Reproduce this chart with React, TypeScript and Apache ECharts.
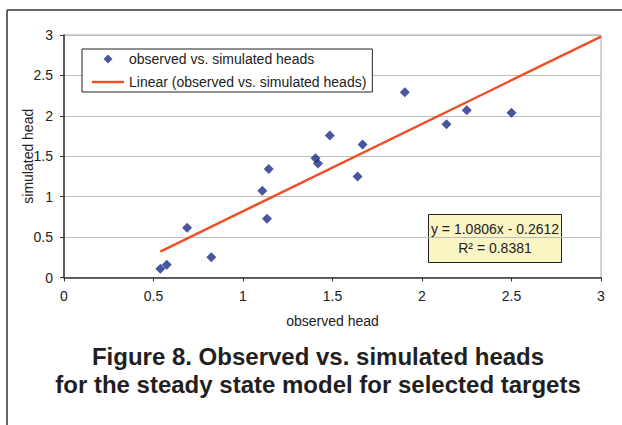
import React, { useEffect, useRef } from "react";
import * as echarts from "echarts";

const observedHead = [0.538, 0.574, 0.688, 0.823, 1.108, 1.134, 1.144, 1.405, 1.419, 1.485, 1.64, 1.668, 1.904, 2.137, 2.25, 2.5];
const simulatedHead = [0.107, 0.157, 0.616, 0.252, 1.074, 0.727, 1.343, 1.475, 1.409, 1.756, 1.248, 1.645, 2.293, 1.897, 2.07, 2.037];
const trendSlope = 1.0806;
const trendIntercept = -0.2612;
const trendEnd = 3;
const rSquared = 0.8381;
const axisTicks = [0, 0.5, 1, 1.5, 2, 2.5, 3];
const seriesName = "observed vs. simulated heads";
const trendName = "Linear (observed vs. simulated heads)";
const captionLines = ["Figure 8. Observed vs. simulated heads", "for the steady state model for selected targets"];

export default function App() {
  const ref = useRef<HTMLDivElement>(null);
  useEffect(() => {
    if (!ref.current) return;
    const chart = echarts.init(ref.current, null, { renderer: "svg" });
    const scatterData = observedHead.map((x, i) => [x, simulatedHead[i]]);
    const xStart = Math.min(...observedHead);
    const trendData = [xStart, trendEnd].map((x) => [x, trendSlope * x + trendIntercept]);
    const font = "Liberation Sans, Arial, sans-serif";
    const tickMin = axisTicks[0];
    const tickMax = axisTicks[axisTicks.length - 1];
    const tickStep = axisTicks[1] - axisTicks[0];
    const markerColor = "#1c2b85";
    const trendColor = "#f04e24";
    chart.setOption({
      animation: false,
      backgroundColor: "#ffffff",
      textStyle: { fontFamily: font },
      grid: {
        left: 64,
        top: 35,
        right: 21,
        bottom: 147.5,
        show: true,
        borderColor: "#a6a6a6",
        borderWidth: 1,
        backgroundColor: "transparent",
      },
      xAxis: {
        type: "value",
        min: tickMin,
        max: tickMax,
        interval: tickStep,
        name: "observed head",
        nameLocation: "middle",
        nameGap: 36,
        nameMoveOverlap: false,
        nameTextStyle: { fontSize: 14, color: "#222", fontFamily: font },
        axisLine: { show: true, lineStyle: { color: "#333", width: 1.5 } },
        axisTick: { show: true, length: 4, lineStyle: { color: "#333" } },
        axisLabel: { fontSize: 14, color: "#222", margin: 11, fontFamily: font },
        splitLine: { show: false },
      },
      yAxis: {
        type: "value",
        min: tickMin,
        max: tickMax,
        interval: tickStep,
        name: "simulated head",
        nameLocation: "middle",
        nameRotate: 90,
        nameGap: 29,
        nameMoveOverlap: false,
        nameTextStyle: { fontSize: 14, color: "#222", fontFamily: font },
        axisLine: { show: true, lineStyle: { color: "#333", width: 1.5 } },
        axisTick: { show: true, length: 4, lineStyle: { color: "#333" } },
        axisLabel: { fontSize: 14, color: "#222", margin: 11, fontFamily: font },
        splitLine: { show: true, lineStyle: { color: "#bdbdbd", width: 1 } },
      },
      legend: {
        orient: "vertical",
        left: 82,
        top: 49,
        padding: [3, 6, 3, 10],
        itemGap: 9,
        itemWidth: 32,
        itemHeight: 9,
        backgroundColor: "#ffffff",
        borderColor: "#222",
        borderWidth: 1,
        textStyle: { fontSize: 14, color: "#222", fontFamily: font },
        data: [
          {
            name: seriesName,
            icon: "path://M5,0 L10,5 L5,10 L0,5 Z",
            symbolKeepAspect: true,
            itemStyle: { color: markerColor },
          },
          {
            name: trendName,
            icon: "path://M0,0 L40,0 L40,3 L0,3 Z",
            symbolKeepAspect: true,
            itemStyle: { color: trendColor },
          },
        ],
      },
      series: [
        {
          name: trendName,
          type: "line",
          data: trendData,
          symbol: "none",
          symbolKeepAspect: true,
          lineStyle: { color: trendColor, width: 2.4 },
          itemStyle: { color: trendColor },
          z: 2,
        },
        {
          name: seriesName,
          type: "scatter",
          data: scatterData,
          symbol: "diamond",
          symbolKeepAspect: true,
          symbolSize: 10,
          itemStyle: { color: markerColor },
          z: 3,
        },
      ],
      graphic: [
        { type: "line", shape: { x1: 7, y1: 10, x2: 622, y2: 10 }, style: { stroke: "#333", lineWidth: 1.5 } },
        { type: "line", shape: { x1: 7, y1: 10, x2: 7, y2: 425 }, style: { stroke: "#333", lineWidth: 1.5 } },
        {
          type: "group",
          left: 428,
          top: 214,
          children: [
            {
              type: "rect",
              shape: { x: 0, y: 0, width: 133, height: 48 },
              style: { fill: "#fbf5c4", stroke: "#222", lineWidth: 1 },
            },
            {
              type: "text",
              x: 66.5,
              y: 14,
              style: {
                text: `y = ${trendSlope}x - ${Math.abs(trendIntercept)}`,
                fontSize: 14,
                fill: "#222",
                align: "center",
                verticalAlign: "middle",
                fontFamily: font,
              },
            },
            {
              type: "text",
              x: 66.5,
              y: 33,
              style: {
                text: `R² = ${rSquared}`,
                fontSize: 14,
                fill: "#222",
                align: "center",
                verticalAlign: "middle",
                fontFamily: font,
              },
            },
          ],
        },
        {
          type: "text",
          x: 318,
          y: 356,
          style: {
            text: captionLines[0],
            fontSize: 24,
            fontWeight: "bold",
            fill: "#231f20",
            align: "center",
            verticalAlign: "middle",
            fontFamily: font,
          },
        },
        {
          type: "text",
          x: 318,
          y: 384,
          style: {
            text: captionLines[1],
            fontSize: 24,
            fontWeight: "bold",
            fill: "#231f20",
            align: "center",
            verticalAlign: "middle",
            fontFamily: font,
          },
        },
      ],
    });
    return () => chart.dispose();
  }, []);
  return (
    <div
      ref={ref}
      style={{ position: "fixed", left: 0, top: 0, width: 622, height: 425, background: "#fff" }}
    />
  );
}
